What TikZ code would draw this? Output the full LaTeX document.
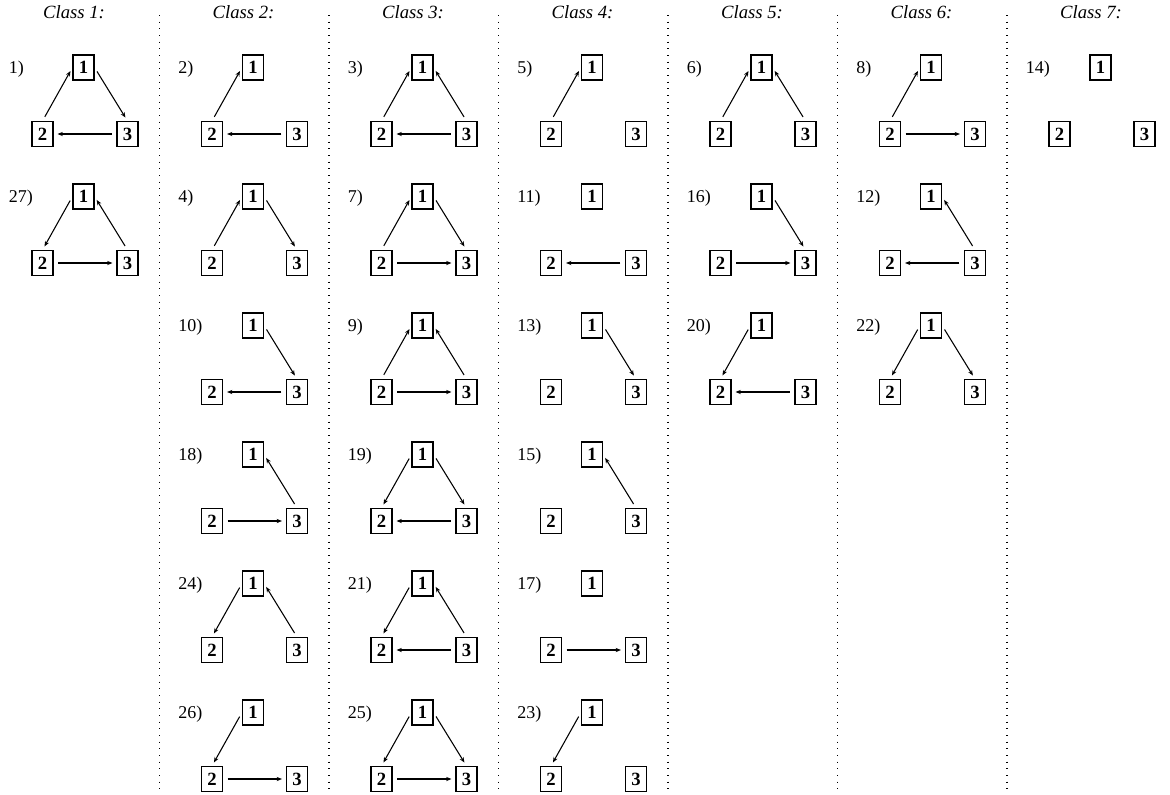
\documentclass[tikz,border=0pt]{standalone}
\usepackage{fontspec}
\setmainfont{Liberation Serif}
\usepackage{tikz}
\usetikzlibrary{arrows.meta}

% one triad: id, column, row, label
\newcommand{\triad}[4]{%
  \node[vtx] (#1-1) at ({83.5+169.5*(#2-1)},{67.5+129*(#3-1)}) {1};
  \node[vtx] (#1-2) at ({42.5+169.5*(#2-1)},{134+129*(#3-1)}) {2};
  \node[vtx] (#1-3) at ({127.5+169.5*(#2-1)},{134+129*(#3-1)}) {3};
  \node[num] (#1-lab) at ({8.5+169.5*(#2-1)},{69+129*(#3-1)}) {#4};
}

\begin{document}
\begin{tikzpicture}[
  x=0.75pt, y=-0.75pt, >={Stealth[length=4pt,width=3.2pt]},
  vtx/.style={draw, line width=1.1pt, minimum width=15.5pt, minimum height=18.5pt,
              inner sep=0pt, font=\fontsize{14}{15}\selectfont\bfseries},
  num/.style={anchor=west, inner sep=0pt, font=\fontsize{13.5}{15}\selectfont},
  head/.style={font=\fontsize{14}{16}\selectfont\itshape},
  arc/.style={->, line width=0.8pt, shorten >=3pt, shorten <=3.5pt},
  sep/.style={line width=0.8pt, dash pattern=on 0.8pt off 4.2pt},
]
\useasboundingbox (0,0) rectangle (1170,794);

% class headers
\node[head] (h1) at (74,12)     {Class 1:};
\node[head] (h2) at (243.5,12)  {Class 2:};
\node[head] (h3) at (413,12)    {Class 3:};
\node[head] (h4) at (582.5,12)  {Class 4:};
\node[head] (h5) at (752,12)    {Class 5:};
\node[head] (h6) at (921.5,12)  {Class 6:};
\node[head] (h7) at (1091,12)   {Class 7:};

% dotted separators
\draw[sep] (159.5,15) -- (159.5,794);
\draw[sep] (329,15)   -- (329,794);
\draw[sep] (498.5,15) -- (498.5,794);
\draw[sep] (668,15)   -- (668,794);
\draw[sep] (837.5,15) -- (837.5,794);
\draw[sep] (1007,15)  -- (1007,794);

% class 1
\triad{g1}{1}{1}{1)}
\draw[arc] (g1-2.north) -- (g1-1.west);
\draw[arc] (g1-1.east) -- (g1-3.north);
\draw[arc] (g1-3.west) -- (g1-2.east);
\triad{g27}{1}{2}{27)}
\draw[arc] (g27-1.west) -- (g27-2.north);
\draw[arc] (g27-3.north) -- (g27-1.east);
\draw[arc] (g27-2.east) -- (g27-3.west);

% class 2
\triad{g2}{2}{1}{2)}
\draw[arc] (g2-2.north) -- (g2-1.west);
\draw[arc] (g2-3.west) -- (g2-2.east);
\triad{g4}{2}{2}{4)}
\draw[arc] (g4-2.north) -- (g4-1.west);
\draw[arc] (g4-1.east) -- (g4-3.north);
\triad{g10}{2}{3}{10)}
\draw[arc] (g10-1.east) -- (g10-3.north);
\draw[arc] (g10-3.west) -- (g10-2.east);
\triad{g18}{2}{4}{18)}
\draw[arc] (g18-3.north) -- (g18-1.east);
\draw[arc] (g18-2.east) -- (g18-3.west);
\triad{g24}{2}{5}{24)}
\draw[arc] (g24-1.west) -- (g24-2.north);
\draw[arc] (g24-3.north) -- (g24-1.east);
\triad{g26}{2}{6}{26)}
\draw[arc] (g26-1.west) -- (g26-2.north);
\draw[arc] (g26-2.east) -- (g26-3.west);

% class 3
\triad{g3}{3}{1}{3)}
\draw[arc] (g3-2.north) -- (g3-1.west);
\draw[arc] (g3-3.north) -- (g3-1.east);
\draw[arc] (g3-3.west) -- (g3-2.east);
\triad{g7}{3}{2}{7)}
\draw[arc] (g7-2.north) -- (g7-1.west);
\draw[arc] (g7-1.east) -- (g7-3.north);
\draw[arc] (g7-2.east) -- (g7-3.west);
\triad{g9}{3}{3}{9)}
\draw[arc] (g9-2.north) -- (g9-1.west);
\draw[arc] (g9-3.north) -- (g9-1.east);
\draw[arc] (g9-2.east) -- (g9-3.west);
\triad{g19}{3}{4}{19)}
\draw[arc] (g19-1.west) -- (g19-2.north);
\draw[arc] (g19-1.east) -- (g19-3.north);
\draw[arc] (g19-3.west) -- (g19-2.east);
\triad{g21}{3}{5}{21)}
\draw[arc] (g21-1.west) -- (g21-2.north);
\draw[arc] (g21-3.north) -- (g21-1.east);
\draw[arc] (g21-3.west) -- (g21-2.east);
\triad{g25}{3}{6}{25)}
\draw[arc] (g25-1.west) -- (g25-2.north);
\draw[arc] (g25-1.east) -- (g25-3.north);
\draw[arc] (g25-2.east) -- (g25-3.west);

% class 4
\triad{g5}{4}{1}{5)}
\draw[arc] (g5-2.north) -- (g5-1.west);
\triad{g11}{4}{2}{11)}
\draw[arc] (g11-3.west) -- (g11-2.east);
\triad{g13}{4}{3}{13)}
\draw[arc] (g13-1.east) -- (g13-3.north);
\triad{g15}{4}{4}{15)}
\draw[arc] (g15-3.north) -- (g15-1.east);
\triad{g17}{4}{5}{17)}
\draw[arc] (g17-2.east) -- (g17-3.west);
\triad{g23}{4}{6}{23)}
\draw[arc] (g23-1.west) -- (g23-2.north);

% class 5
\triad{g6}{5}{1}{6)}
\draw[arc] (g6-2.north) -- (g6-1.west);
\draw[arc] (g6-3.north) -- (g6-1.east);
\triad{g16}{5}{2}{16)}
\draw[arc] (g16-1.east) -- (g16-3.north);
\draw[arc] (g16-2.east) -- (g16-3.west);
\triad{g20}{5}{3}{20)}
\draw[arc] (g20-1.west) -- (g20-2.north);
\draw[arc] (g20-3.west) -- (g20-2.east);

% class 6
\triad{g8}{6}{1}{8)}
\draw[arc] (g8-2.north) -- (g8-1.west);
\draw[arc] (g8-2.east) -- (g8-3.west);
\triad{g12}{6}{2}{12)}
\draw[arc] (g12-3.north) -- (g12-1.east);
\draw[arc] (g12-3.west) -- (g12-2.east);
\triad{g22}{6}{3}{22)}
\draw[arc] (g22-1.west) -- (g22-2.north);
\draw[arc] (g22-1.east) -- (g22-3.north);

% class 7
\triad{g14}{7}{1}{14)}
\end{tikzpicture}
\end{document}
